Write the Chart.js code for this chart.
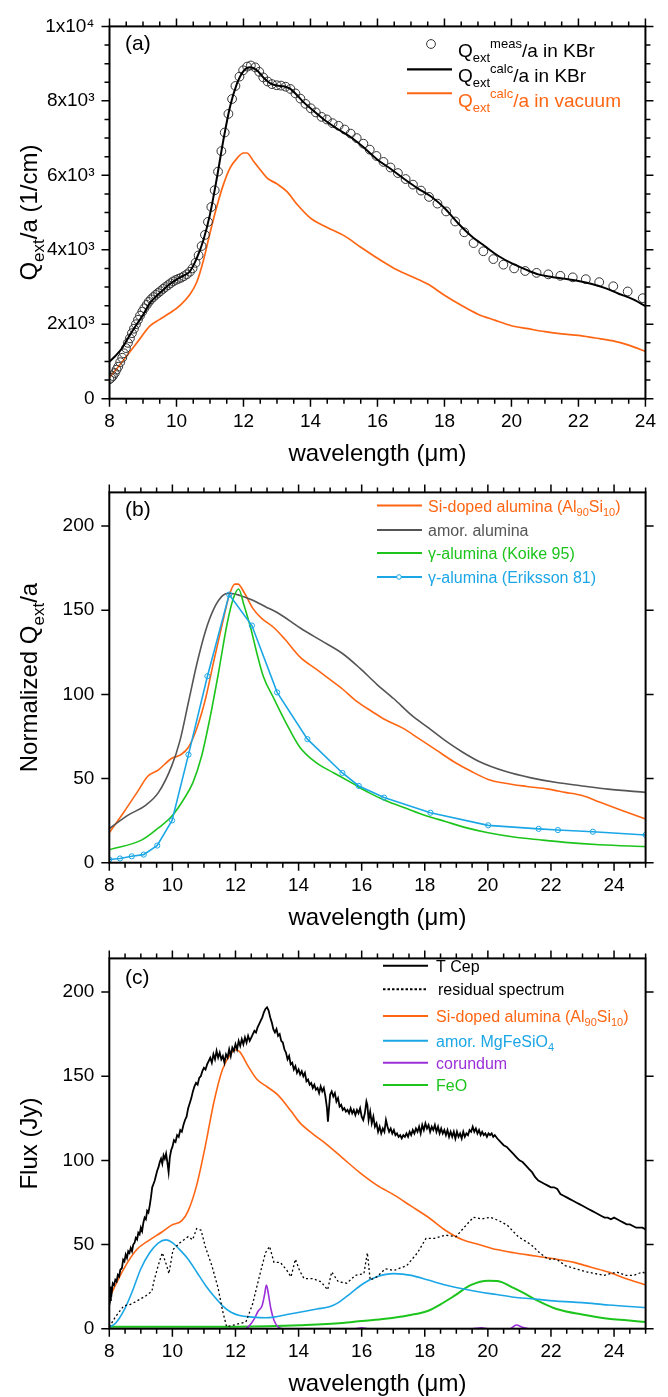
<!DOCTYPE html>
<html lang="en">
<head>
  <meta charset="UTF-8" />
  <title>Alumina extinction and T Cep spectrum</title>
  <style>
    body { margin: 0; background: #fff; }
    .wrap { position: relative; width: 668px; height: 1397px; }
    canvas { position: absolute; left: 0; }
  </style>
</head>
<body>
  <div class="wrap">
    <canvas id="chartA" width="668" height="466" style="top:0"></canvas>
    <canvas id="chartB" width="668" height="466" style="top:466px"></canvas>
    <canvas id="chartC" width="668" height="465" style="top:932px"></canvas>
  </div>

  <script src="https://cdn.jsdelivr.net/npm/chart.js@4.4.1/dist/chart.umd.min.js"></script>
  <script>
    const FONT = "'Liberation Sans', Arial, Helvetica, sans-serif";
    Chart.defaults.font.family = FONT;
    Chart.defaults.color = '#000';

    const ORANGE = '#ff6614', BLUE = '#1ba6e6', GREEN = '#1cc41c', PURPLE = '#9b30d8', GRAY = '#555555';

    // ---- tick labels ----
    const xTicksA = [8, 10, 12, 14, 16, 18, 20, 22, 24];
    const xTicksBC = [8, 10, 12, 14, 16, 18, 20, 22, 24];
    const yTicksA = [0, 2000, 4000, 6000, 8000, 10000];
    const yLabelsA = ['0', '2x10³', '4x10³', '6x10³', '8x10³', '1x10⁴'];
    const yTicksBC = [0, 50, 100, 150, 200];

    // ---- panel (a) ----
    const measWl = [8.00,8.05,8.10,8.16,8.21,8.26,8.32,8.38,8.43,8.49,
      8.55,8.61,8.67,8.73,8.79,8.85,8.91,8.98,9.04,9.11,
      9.17,9.24,9.31,9.38,9.45,9.52,9.60,9.67,9.75,9.82,
      9.90,9.98,10.06,10.14,10.22,10.31,10.40,10.48,10.57,10.66,
      10.75,10.85,10.94,11.04,11.14,11.24,11.34,11.44,11.55,11.66,
      11.76,11.88,11.99,12.11,12.22,12.35,12.47,12.59,12.72,12.85,
      12.99,13.12,13.26,13.40,13.55,13.70,13.85,14.01,14.16,14.33,
      14.49,14.66,14.84,15.02,15.20,15.38,15.58,15.77,15.97,16.18,
      16.39,16.61,16.84,17.06,17.30,17.54,17.79,18.05,18.32,18.59,
      18.87,19.16,19.46,19.76,20.08,20.41,20.75,21.10,21.46,21.83,
      22.22,22.62,23.04,23.47,23.92];
    const measQ = [520,560,610,690,780,860,980,1100,1220,1360,
      1500,1620,1760,1880,2000,2120,2230,2340,2430,2520,
      2600,2670,2730,2790,2840,2890,2950,3000,3050,3100,
      3150,3190,3220,3250,3290,3340,3410,3500,3650,3850,
      4100,4400,4750,5150,5600,6100,6650,7150,7650,8050,
      8400,8650,8820,8920,8950,8900,8780,8630,8520,8450,
      8420,8410,8380,8320,8200,8060,7920,7800,7690,7570,
      7500,7400,7330,7230,7120,7000,6850,6690,6520,6360,
      6210,6060,5900,5750,5590,5420,5240,5030,4760,4470,
      4180,3960,3750,3600,3500,3430,3380,3340,3300,3260,
      3210,3130,3020,2880,2700];

    const calcWl = [8.0,8.2,8.4,8.6,8.8,9.0,9.2,9.4,9.6,9.8,
      10.0,10.2,10.4,10.6,10.8,11.0,11.2,11.4,11.6,11.8,
      12.0,12.2,12.4,12.6,12.8,13.0,13.2,13.4,13.6,13.8,
      14.0,14.4,14.8,15.2,15.6,16.0,16.4,16.8,17.2,17.6,
      18.0,18.4,18.8,19.2,19.6,20.0,20.4,20.8,21.2,21.6,
      22.0,22.4,22.8,23.2,23.6,24.0];
    const calcKBr = [1000,1170,1390,1700,1980,2250,2560,2760,2920,3080,
      3200,3300,3420,3760,4250,4950,5900,6950,7850,8450,
      8800,8900,8820,8620,8470,8410,8390,8320,8150,7960,
      7800,7500,7250,7030,6740,6420,6170,5900,5650,5430,
      5120,4720,4370,4100,3840,3640,3480,3340,3270,3220,
      3160,3080,2970,2820,2680,2490];

    const vacWl = [8.0,8.3,8.6,8.9,9.2,9.5,9.8,10.1,10.4,10.6,
      10.8,11.0,11.2,11.4,11.6,11.8,12.0,12.1,12.3,12.5,
      12.7,13.0,13.3,13.6,14.0,14.5,15.0,15.5,16.0,16.5,
      17.0,17.5,18.0,18.5,19.0,19.5,20.0,20.5,21.0,21.5,
      22.0,22.5,23.0,23.5,24.0];
    const vacQ = [570,900,1250,1600,1950,2130,2300,2500,2800,3120,
      3700,4450,5150,5750,6200,6450,6600,6600,6380,6150,
      5930,5770,5560,5220,4850,4600,4380,4070,3770,3500,
      3290,3080,2780,2510,2270,2110,1960,1880,1800,1740,
      1700,1630,1560,1440,1270];

    // ---- panel (b) ----
    const bSiWl = [8.0,8.47,8.88,9.22,9.56,9.97,10.24,10.51,10.78,11.05,
      11.32,11.6,11.8,11.98,12.08,12.27,12.55,12.82,13.22,13.56,
      14.04,14.58,14.99,15.39,15.8,16.34,16.75,17.29,17.84,18.38,
      18.92,19.47,20.01,20.55,21.23,21.91,22.45,22.99,23.54,24.21,25.0];
    const bSi = [17.8,30.3,41.8,51.4,55.2,61.9,63.9,68.6,80.2,97.4,
      120.4,143.4,158.8,165.5,165.5,160.7,151.1,145.3,139.6,132.9,
      122.3,114.7,108.9,103.2,96.5,89.7,84.9,80.1,73.4,66.7,
      60.0,54.3,49.5,47.2,45.3,43.7,41.8,39.9,36.0,31.3,25.9];

    const bAmorWl = [8.0,8.61,9.15,9.56,9.97,10.24,10.51,10.78,11.05,11.32,
      11.6,11.8,12.14,12.55,12.95,13.36,14.04,14.72,15.39,15.94,
      16.48,17.02,17.57,18.11,18.65,19.19,19.74,20.55,21.37,22.18,
      22.99,23.81,25.0];
    const bAmor = [20.3,28.4,34.1,41.8,57.1,72.5,95.5,118.5,137.7,151.1,
      158.8,160.1,158.8,155.9,152.1,148.2,139.6,131.9,124.3,115.6,
      106.0,97.4,87.8,80.2,72.5,65.8,60.0,54.3,50.4,47.6,
      45.6,43.7,41.8];

    const bKoikeWl = [8.0,9.02,9.56,9.97,10.37,10.65,10.92,11.19,11.46,11.73,
      11.93,12.1,12.27,12.48,12.68,12.88,13.22,13.63,14.04,14.58,
      15.12,15.67,16.21,16.75,17.43,17.97,18.65,19.33,20.01,20.82,
      21.64,22.45,23.54,25.0];
    const bKoike = [7.7,13.4,20.7,27.4,38.0,47.6,62.9,85.9,112.7,141.5,
      156.9,162.6,153.0,139.6,124.3,110.8,97.4,82.1,68.6,59.1,
      53.3,47.6,41.8,37.0,32.2,28.4,24.5,20.7,17.8,15.3,
      13.6,12.1,10.7,9.6];

    const bErikWl = [8.0,8.34,8.71,9.09,9.52,9.99,10.51,11.11,11.8,12.52,
      13.32,14.28,15.39,15.91,16.71,18.18,20.01,21.61,22.22,23.33,25.0];
    const bErik = [1.9,2.5,3.8,4.8,10.2,25.1,64.2,110.8,159.3,140.9,
      101.2,73.4,53.3,45.6,38.7,29.7,22.2,20.1,19.4,18.4,16.5];

    // ---- panel (c) ----
    const tcepWl = [8.00,8.03,8.05,8.08,8.11,8.15,8.19,8.23,8.27,8.31,
      8.35,8.40,8.44,8.48,8.52,8.56,8.60,8.64,8.68,8.72,
      8.76,8.80,8.84,8.88,8.92,8.96,9.00,9.04,9.08,9.12,
      9.16,9.20,9.24,9.28,9.32,9.36,9.40,9.44,9.48,9.52,
      9.56,9.60,9.64,9.68,9.72,9.76,9.80,9.84,9.88,9.92,
      9.96,10.00,10.05,10.10,10.15,10.20,10.25,10.30,10.35,10.40,
      10.45,10.50,10.55,10.60,10.65,10.70,10.75,10.80,10.85,10.90,
      10.95,11.00,11.05,11.10,11.15,11.20,11.25,11.30,11.35,11.40,
      11.45,11.50,11.55,11.60,11.65,11.70,11.75,11.80,11.85,11.90,
      11.95,12.00,12.05,12.10,12.15,12.20,12.25,12.30,12.35,12.40,
      12.45,12.50,12.55,12.60,12.65,12.70,12.75,12.80,12.85,12.90,
      12.95,13.00,13.05,13.10,13.15,13.20,13.25,13.30,13.35,13.40,
      13.45,13.50,13.55,13.60,13.65,13.70,13.75,13.80,13.85,13.90,
      13.95,14.00,14.05,14.10,14.15,14.20,14.25,14.30,14.35,14.40,
      14.45,14.50,14.55,14.60,14.65,14.70,14.75,14.80,14.85,14.90,
      14.93,14.96,15.00,15.05,15.10,15.15,15.20,15.25,15.30,15.35,
      15.40,15.45,15.50,15.55,15.60,15.65,15.70,15.75,15.80,15.85,
      15.90,15.95,16.00,16.05,16.10,16.15,16.18,16.22,16.27,16.32,
      16.37,16.42,16.47,16.52,16.57,16.62,16.67,16.72,16.77,16.82,
      16.87,16.92,16.97,17.02,17.07,17.12,17.17,17.22,17.27,17.32,
      17.37,17.42,17.47,17.52,17.57,17.62,17.67,17.72,17.77,17.82,
      17.87,17.92,17.97,18.02,18.07,18.12,18.17,18.22,18.27,18.32,
      18.37,18.42,18.47,18.52,18.57,18.62,18.67,18.72,18.77,18.82,
      18.87,18.92,18.97,19.02,19.07,19.12,19.17,19.22,19.27,19.32,
      19.37,19.42,19.47,19.52,19.57,19.62,19.67,19.72,19.77,19.82,
      19.87,19.92,19.97,20.02,20.07,20.12,20.17,20.22,20.30,20.40,
      20.50,20.60,20.70,20.80,20.90,21.00,21.10,21.20,21.30,21.40,
      21.50,21.60,21.70,21.80,21.90,22.00,22.10,22.20,22.30,22.40,
      22.50,22.60,22.70,22.80,22.90,23.00,23.10,23.20,23.30,23.40,
      23.50,23.60,23.70,23.80,23.90,24.00,24.10,24.20,24.30,24.40,
      24.50,24.60,24.70,24.80,24.90,25.00];
    const tcepFlux = [14,17,25,22,27,26,29,28,32,31,
      35,36,41,40,44,42,46,45,48,46,
      50,51,54,53,57,56,60,58,63,66,
      65,70,69,73,78,84,86,88,91,94,
      96,99,101,98,103,101,104,99,93,102,
      106,108,112,111,115,114,118,117,121,124,
      126,131,134,137,141,144,146,145,149,150,
      153,155,154,157,159,161,158,163,160,165,
      161,164,160,162,158,163,161,166,162,167,
      165,169,166,171,168,172,169,173,170,174,
      171,173,175,177,176,179,181,183,185,188,
      190,191,189,185,182,178,176,178,174,175,
      171,170,166,164,160,162,157,158,154,156,
      152,154,151,153,150,152,147,148,145,146,
      143,145,142,143,140,144,141,143,138,131,
      123,130,139,141,138,140,135,137,132,133,
      130,131,129,130,128,131,128,130,127,130,
      128,131,126,124,128,135,133,124,129,122,
      126,120,122,117,120,116,119,117,124,120,
      117,119,116,118,115,116,114,115,113,115,
      114,116,114,117,115,118,116,119,117,120,
      116,121,118,122,119,121,117,120,118,121,
      117,120,116,119,116,118,115,118,114,117,
      114,117,113,117,114,116,113,117,114,116,
      115,118,117,120,117,119,116,118,115,117,
      115,116,114,116,115,116,114,115,113,111,
      109,108,106,104,102,100,99,97,95,93,
      90,88,87,86,85,84,84,83,80,79,
      78,77,76,75,74,73,72,71,70,69,
      68,67,66,66,65,66,65,64,63,62,
      62,61,60,60,60,59];

    const resWl = [8.0,8.19,8.46,8.67,8.87,9.14,9.35,9.41,9.55,9.68,
      9.82,9.89,10.02,10.23,10.5,10.64,10.77,10.91,11.04,11.25,
      11.45,11.59,11.72,11.93,12.13,12.33,12.54,12.74,12.95,13.08,
      13.22,13.42,13.63,13.76,13.9,14.03,14.17,14.44,14.71,14.92,
      15.05,15.26,15.53,15.8,16.07,16.18,16.27,16.48,16.75,17.02,
      17.43,17.77,18.04,18.31,18.65,18.99,19.26,19.54,19.81,20.08,
      20.35,20.62,20.96,21.37,21.64,21.91,22.18,22.45,22.79,23.14,
      23.41,23.68,24.09,24.36,24.63,24.9,25.0];
    const resFlux = [1,6.9,13.6,14.5,16.4,19.3,22.2,27.9,37.5,45.1,
      37.5,32.7,47,50.9,54.7,52.8,59.5,58.5,48.9,37.5,
      24.1,10.7,1.1,2.1,3.1,4,14.5,29.8,45.1,48.9,
      39.4,39.4,34.6,30.8,41.3,34.6,29.8,29.8,27.9,23.1,
      33.7,27.9,27,31.7,32.7,45.1,28.9,30.8,35.6,34.6,
      37.5,45.1,53.7,53.7,55.6,54.7,60.4,66.2,65.2,66.2,
      64.2,61.4,54.7,49.9,45.1,41.3,41.3,37.5,35.6,33.7,
      32.7,31.7,33.7,31.7,31.7,33.7,32.7];

    const cSiWl = [8.0,8.46,8.87,9.28,9.68,9.96,10.3,10.5,10.77,11.04,
      11.32,11.59,11.86,11.99,12.13,12.4,12.67,13.01,13.35,13.76,
      14.03,14.44,14.85,15.39,15.93,16.48,17.02,17.57,18.11,18.65,
      19.2,19.74,20.28,20.83,21.51,22.18,22.73,23.27,23.82,24.36,25.0];
    const cSi = [18.4,35.6,47,52.8,57.6,61.4,64.2,70,85.3,108.2,
      135,154.1,163.7,165.6,164.6,156,148.4,143.6,138.8,129.3,
      122.6,115.9,110.1,101.5,92.9,85.3,79.5,72.8,66.2,58.5,
      52.8,49.9,47,45.1,43.2,41.3,39.4,36.5,33.7,29.8,26];

    const olivWl = [8.0,8.19,8.46,8.73,9.0,9.28,9.55,9.79,10.02,10.23,
      10.5,10.77,11.04,11.32,11.59,11.86,12.13,12.54,12.95,13.22,
      13.63,14.03,14.58,14.98,15.26,15.66,16.07,16.48,17.02,17.57,
      18.11,18.65,19.2,19.74,20.28,20.83,21.37,22.18,22.99,23.82,25.0];
    const olivFlux = [1.1,3.1,10.7,22.2,35.6,45.1,50.9,52.8,50.9,47,
      41.3,33.7,26,19.3,13.6,9.8,7.8,6.9,6.5,6.9,
      8.4,9.8,11.7,13,15.5,21.2,27,30.8,32.7,31.7,
      28.9,26,23.7,21.8,20.3,18.7,17.8,16.4,15.5,14.1,12.6];

    const corWl = [8.0,12.3,12.45,12.6,12.72,12.84,12.92,12.98,13.04,13.12,
      13.22,13.35,13.5,15.8,16.0,16.2,19.5,19.8,20.0,20.7,
      20.9,21.1,21.3,25.0];
    const corFlux = [0,0,2,6,10.5,13.5,20,26,21,12,
      5,1,0,0,0.6,0,0,0.6,0,0,
      2.2,0.8,0,0];

    const feoWl = [8.0,10.0,12.0,13.0,14.03,15.39,16.0,16.75,17.5,18.11,
      18.5,18.92,19.47,20.01,20.3,20.83,21.2,21.64,22.18,22.99,
      23.82,24.4,25.0];
    const feoFlux = [1.1,1.1,1.2,1.5,2.1,3.4,4.6,5.9,8,10.7,
      14.5,19.3,26,28.5,28.3,24.1,20.5,16.1,11.7,8.4,
      5.9,5,4];

    // ---- helpers ----
    const pts = (xs, ys) => xs.map((v, i) => ({ x: v, y: ys[i] }));

    function line(label, xs, ys, color, extra) {
      return Object.assign({
        label, data: pts(xs, ys), borderColor: color, borderWidth: 1.6,
        pointRadius: 0, cubicInterpolationMode: 'monotone', fill: false
      }, extra || {});
    }

    // text with sub/superscripts: parts = [[text, 'sub'|'sup'|undefined], ...]
    function drawRich(ctx, parts, x, y, size, color, align) {
      const small = Math.round(size * 0.7);
      let w = 0;
      const segs = parts.map(([t, m]) => {
        const fs = m ? small : size;
        ctx.font = fs + 'px ' + FONT;
        const sw = ctx.measureText(t).width;
        const dy = m === 'sub' ? size * 0.28 : m === 'sup' ? -size * 0.48 : 0;
        w += sw;
        return { t, fs, sw, dy };
      });
      let cx = align === 'center' ? x - w / 2 : x;
      ctx.fillStyle = color;
      ctx.textAlign = 'left';
      ctx.textBaseline = 'alphabetic';
      segs.forEach(s => {
        ctx.font = s.fs + 'px ' + FONT;
        ctx.fillText(s.t, cx, y + s.dy);
        cx += s.sw;
      });
    }

    function decor(p) {
      return {
        id: 'decor',
        afterDatasetsDraw(chart) {
          const { ctx, chartArea: a, scales: { x, y } } = chart;
          ctx.save();
          ctx.strokeStyle = '#000';
          ctx.lineWidth = 1.5;
          ctx.beginPath();
          for (let v = p.xMin; v <= p.xMax + 1e-9; v += 0.5) {
            const px = x.getPixelForValue(v);
            const len = p.xTicks.includes(v) ? 8 : 5;
            ctx.moveTo(px, a.bottom); ctx.lineTo(px, a.bottom + len);
            ctx.moveTo(px, a.top); ctx.lineTo(px, a.top - len);
          }
          const yMarks = [];
          if (p.yMinor) {
            for (let v = 0; v <= p.yMax + 1e-9; v += p.yMinor) yMarks.push([v, p.yTicks.includes(v) ? 8 : 5]);
          } else {
            p.yTicks.forEach(v => yMarks.push([v, 8]));
          }
          yMarks.forEach(([v, len]) => {
            const py = y.getPixelForValue(v);
            ctx.moveTo(a.left, py); ctx.lineTo(a.left - len, py);
            ctx.moveTo(a.right, py); ctx.lineTo(a.right + len, py);
          });
          ctx.stroke();
          ctx.lineWidth = 2;
          ctx.strokeRect(a.left, a.top, a.right - a.left, a.bottom - a.top);

          // axis titles
          drawRich(ctx, [['wavelength (μm)']], (a.left + a.right) / 2, a.bottom + 62, 24, '#000', 'center');
          ctx.save();
          ctx.translate(37, (a.top + a.bottom) / 2);
          ctx.rotate(-Math.PI / 2);
          drawRich(ctx, p.yTitle, 0, 0, 24, '#000', 'center');
          ctx.restore();

          // panel label
          drawRich(ctx, [[p.tag]], 125, p.tagY, 21, '#000');

          // legend
          p.legend.forEach(r => {
            ctx.save();
            ctx.strokeStyle = r.color;
            ctx.lineWidth = r.width || 2;
            if (r.dash) ctx.setLineDash(r.dash);
            if (r.sample !== 'circle') {
              ctx.beginPath();
              ctx.moveTo(r.x0, r.y); ctx.lineTo(r.x1, r.y);
              ctx.stroke();
            }
            ctx.setLineDash([]);
            if (r.marker) {
              ctx.lineWidth = 1;
              ctx.fillStyle = '#fff';
              ctx.beginPath();
              ctx.arc(r.marker, r.y, r.markerR, 0, Math.PI * 2);
              if (r.sample === 'line') ctx.fill();
              ctx.stroke();
            }
            ctx.restore();
            drawRich(ctx, r.parts, r.tx, r.ty, r.size, r.textColor);
          });
          ctx.restore();
        }
      };
    }

    function makeChart(id, p) {
      return new Chart(document.getElementById(id), {
        type: 'line',
        data: { datasets: p.datasets },
        options: {
          responsive: false,
          animation: false,
          devicePixelRatio: 1,
          layout: { padding: { top: p.top, right: p.right, left: 0, bottom: 0 } },
          plugins: { legend: { display: false }, tooltip: { enabled: false } },
          scales: {
            x: {
              type: 'linear', min: p.xMin, max: p.xMax,
              afterBuildTicks: s => { s.ticks = p.xTicks.map(v => ({ value: v })); },
              afterFit: s => { s.height = p.xH; },
              grid: { display: false, drawTicks: false },
              border: { display: false },
              ticks: { font: { size: 19 }, color: '#000', padding: 12, maxRotation: 0, autoSkip: false }
            },
            y: {
              type: 'linear', min: 0, max: p.yMax,
              afterBuildTicks: s => { s.ticks = p.yTicks.map(v => ({ value: v })); },
              afterFit: s => { s.width = p.yW; },
              grid: { display: false, drawTicks: false },
              border: { display: false },
              ticks: {
                font: { size: 19 }, color: '#000', padding: 15,
                callback: (v, i) => p.yLabels ? p.yLabels[i] : String(v)
              }
            }
          }
        },
        plugins: [decor(p)]
      });
    }

    // ---- (a) ----
    const qParts = sup => [['Q'], ['ext', 'sub'], [sup, 'sup']];
    makeChart('chartA', {
      top: 16.7, right: 21, yW: 109.5, xH: 466 - 398.7,
      xMin: 8, xMax: 24, xTicks: xTicksA,
      yMax: 10000, yTicks: yTicksA, yLabels: yLabelsA, yMinor: 500,
      yTitle: [['Q'], ['ext', 'sub'], ['/a (1/cm)']],
      tag: '(a)', tagY: 50,
      datasets: [
        line('calc KBr', calcWl, calcKBr, '#000', { borderWidth: 2 }),
        {
          label: 'meas KBr', data: pts(measWl, measQ), showLine: false,
          pointRadius: 4.4, pointBorderColor: '#333', pointBackgroundColor: 'rgba(255,255,255,0)',
          pointBorderWidth: 1
        },
        line('calc vacuum', vacWl, vacQ, ORANGE, { borderWidth: 1.7 })
      ],
      legend: [
        { sample: 'circle', color: '#333', marker: 431, markerR: 4.4, y: 44, tx: 458, ty: 57, size: 19,
          parts: qParts('meas').concat([['/a in KBr']]), textColor: '#000' },
        { sample: 'line', color: '#000', width: 2.2, x0: 407, x1: 452, y: 69.3, tx: 458, ty: 82, size: 19,
          parts: qParts('calc').concat([['/a in KBr']]), textColor: '#000' },
        { sample: 'line', color: ORANGE, width: 2, x0: 407, x1: 452, y: 93.3, tx: 458, ty: 107, size: 19,
          parts: qParts('calc').concat([['/a in vacuum']]), textColor: ORANGE }
      ]
    });

    // ---- (b) ----
    const alParts = [['Si-doped alumina (Al'], ['90', 'sub'], ['Si'], ['10', 'sub'], [')']];
    makeChart('chartB', {
      top: 14, right: 22.4, yW: 109.3, xH: 466 - 396.7,
      xMin: 8, xMax: 25, xTicks: xTicksBC,
      yMax: 220, yTicks: yTicksBC,
      yTitle: [['Normalized Q'], ['ext', 'sub'], ['/a']],
      tag: '(b)', tagY: 49.5,
      datasets: [
        line('Eriksson 81', bErikWl, bErik, BLUE, {
          cubicInterpolationMode: 'default', tension: 0, borderWidth: 1.6,
          pointRadius: 2.6, pointBorderColor: BLUE, pointBackgroundColor: 'rgba(255,255,255,0)', pointBorderWidth: 1
        }),
        line('Koike 95', bKoikeWl, bKoike, GREEN),
        line('amor', bAmorWl, bAmor, GRAY),
        line('Si-doped', bSiWl, bSi, ORANGE)
      ],
      legend: [
        { sample: 'line', color: ORANGE, x0: 377, x1: 422, y: 39.5, tx: 428, ty: 45.5, size: 16, parts: alParts, textColor: ORANGE },
        { sample: 'line', color: GRAY, x0: 377, x1: 422, y: 64, tx: 428, ty: 70, size: 16, parts: [['amor. alumina']], textColor: GRAY },
        { sample: 'line', color: GREEN, x0: 377, x1: 422, y: 87, tx: 428, ty: 93, size: 16, parts: [['γ-alumina (Koike 95)']], textColor: GREEN },
        { sample: 'line', color: BLUE, x0: 377, x1: 422, y: 111, tx: 428, ty: 117, size: 16, marker: 399, markerR: 2.3,
          parts: [['γ-alumina (Eriksson 81)']], textColor: BLUE }
      ]
    });

    // ---- (c) ----
    makeChart('chartC', {
      top: 13, right: 22.4, yW: 109.3, xH: 465 - 396.7,
      xMin: 8, xMax: 25, xTicks: xTicksBC,
      yMax: 220, yTicks: yTicksBC,
      yTitle: [['Flux (Jy)']],
      tag: '(c)', tagY: 52,
      datasets: [
        line('T Cep', tcepWl, tcepFlux, '#000', { cubicInterpolationMode: 'default', tension: 0, borderWidth: 1.8 }),
        line('residual', resWl, resFlux, '#000', { cubicInterpolationMode: 'default', tension: 0, borderWidth: 1.3, borderDash: [2, 2.5] }),
        line('Si-doped', cSiWl, cSi, ORANGE),
        line('MgFeSiO4', olivWl, olivFlux, BLUE),
        line('corundum', corWl, corFlux, PURPLE),
        line('FeO', feoWl, feoFlux, GREEN, { borderWidth: 2 })
      ],
      legend: [
        { sample: 'line', color: '#000', x0: 383, x1: 428, y: 33.7, tx: 436, ty: 39.7, size: 16, parts: [['T Cep']], textColor: '#000' },
        { sample: 'line', color: '#000', dash: [2.5, 2], x0: 383, x1: 428, y: 57.3, tx: 438, ty: 63.3, size: 16, parts: [['residual spectrum']], textColor: '#000' },
        { sample: 'line', color: ORANGE, x0: 383, x1: 428, y: 84, tx: 436, ty: 90, size: 16, parts: alParts, textColor: ORANGE },
        { sample: 'line', color: BLUE, x0: 383, x1: 428, y: 108.7, tx: 436, ty: 114.7, size: 16, parts: [['amor. MgFeSiO'], ['4', 'sub']], textColor: BLUE },
        { sample: 'line', color: PURPLE, x0: 383, x1: 428, y: 130.7, tx: 436, ty: 136.7, size: 16, parts: [['corundum']], textColor: PURPLE },
        { sample: 'line', color: GREEN, x0: 383, x1: 428, y: 153, tx: 436, ty: 159, size: 16, parts: [['FeO']], textColor: GREEN }
      ]
    });
  </script>
</body>
</html>
